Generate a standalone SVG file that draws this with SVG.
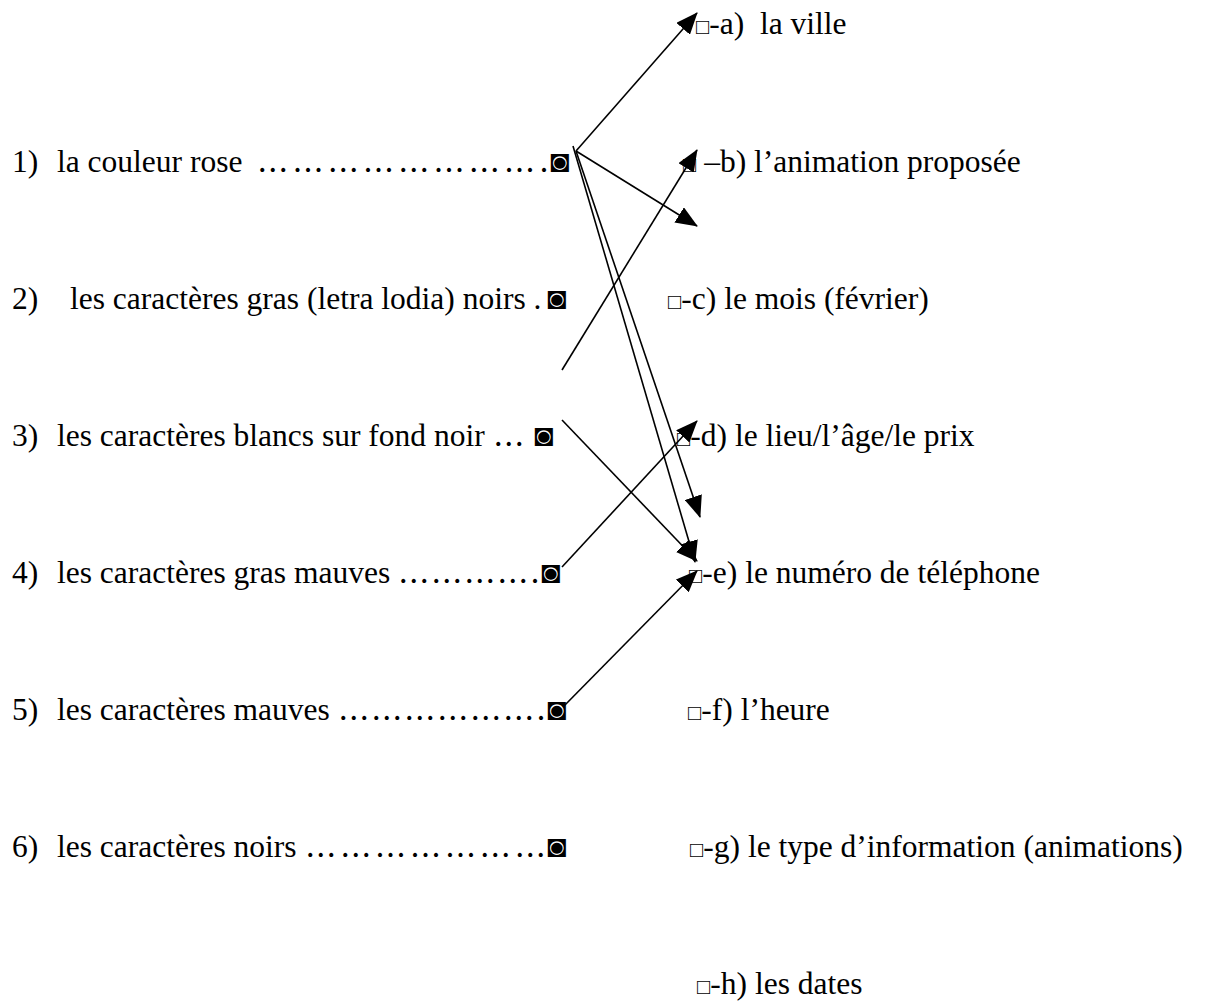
<svg xmlns="http://www.w3.org/2000/svg" width="1205" height="1005" viewBox="0 0 1205 1005">
<style>
text{font-family:"Liberation Serif","Times New Roman",serif;font-size:31.5px;fill:#000;white-space:pre}
.sq{font-size:22px}
.dots{font-family:"DejaVu Serif","Liberation Serif",serif}
.mk{font-size:31.5px}
.c line{stroke:#000;stroke-width:1.6;fill:none}
</style>
<defs>
<marker id="ah" markerUnits="userSpaceOnUse" markerWidth="22" markerHeight="18" refX="21" refY="9" orient="auto" viewBox="0 0 22 18">
<path d="M0,0 L22,9 L0,18 Z" fill="#000"/>
</marker>
</defs>
<rect width="1205" height="1005" fill="#fff"/>
<g id="left1"><text x="12" y="172">1)</text><text y="172"><tspan x="57">la couleur rose </tspan><tspan class="dots" x="257" textLength="292" lengthAdjust="spacing">…………………….</tspan><tspan class="mk" x="550">◙</tspan></text></g>
<g id="left2"><text x="12" y="309">2)</text><text y="309"><tspan x="70">les caractères gras (letra lodia) noirs .</tspan><tspan class="mk" x="547">◙</tspan></text></g>
<g id="left3"><text x="12" y="446">3)</text><text y="446"><tspan x="57">les caractères blancs sur fond noir </tspan><tspan class="dots" x="493" textLength="34" lengthAdjust="spacing">…</tspan><tspan class="mk" x="534">◙</tspan></text></g>
<g id="left4"><text x="12" y="583">4)</text><text y="583"><tspan x="57">les caractères gras mauves </tspan><tspan class="dots" x="398" textLength="142" lengthAdjust="spacing">………….</tspan><tspan class="mk" x="541">◙</tspan></text></g>
<g id="left5"><text x="12" y="720">5)</text><text y="720"><tspan x="57">les caractères mauves </tspan><tspan class="dots" x="338" textLength="208" lengthAdjust="spacing">……………….</tspan><tspan class="mk" x="547">◙</tspan></text></g>
<g id="left6"><text x="12" y="857">6)</text><text y="857"><tspan x="57">les caractères noirs </tspan><tspan class="dots" x="305" textLength="241" lengthAdjust="spacing">…………………</tspan><tspan class="mk" x="547">◙</tspan></text></g>
<g id="right-a"><text x="696" y="34"><tspan class="sq">□</tspan>-a)  la ville</text></g>
<g id="right-b"><text x="683" y="172"><tspan class="sq">□</tspan> –b) l’animation proposée</text></g>
<g id="right-c"><text x="668" y="309"><tspan class="sq">□</tspan>-c) le mois (février)</text></g>
<g id="right-d"><text x="677" y="446"><tspan class="sq">□</tspan>-d) le lieu/l’âge/le prix</text></g>
<g id="right-e"><text x="689" y="583"><tspan class="sq">□</tspan>-e) le numéro de téléphone</text></g>
<g id="right-f"><text x="688" y="720"><tspan class="sq">□</tspan>-f) l’heure</text></g>
<g id="right-g"><text x="690" y="857"><tspan class="sq">□</tspan>-g) le type d’information (animations)</text></g>
<g id="right-h"><text x="697" y="994"><tspan class="sq">□</tspan>-h) les dates</text></g>
<g id="connectors" class="c">
<line x1="576" y1="151" x2="697" y2="13" marker-end="url(#ah)"/>
<line x1="576" y1="151" x2="697" y2="226" marker-end="url(#ah)"/>
<line x1="562" y1="370" x2="697" y2="150" marker-end="url(#ah)"/>
<line x1="576" y1="151" x2="700" y2="517" marker-end="url(#ah)"/>
<line x1="573" y1="146" x2="695" y2="562" marker-end="url(#ah)"/>
<line x1="562" y1="420" x2="697" y2="561" marker-end="url(#ah)"/>
<line x1="562" y1="567" x2="697" y2="421" marker-end="url(#ah)"/>
<line x1="563" y1="707" x2="697" y2="571" marker-end="url(#ah)"/>
</g>
</svg>
